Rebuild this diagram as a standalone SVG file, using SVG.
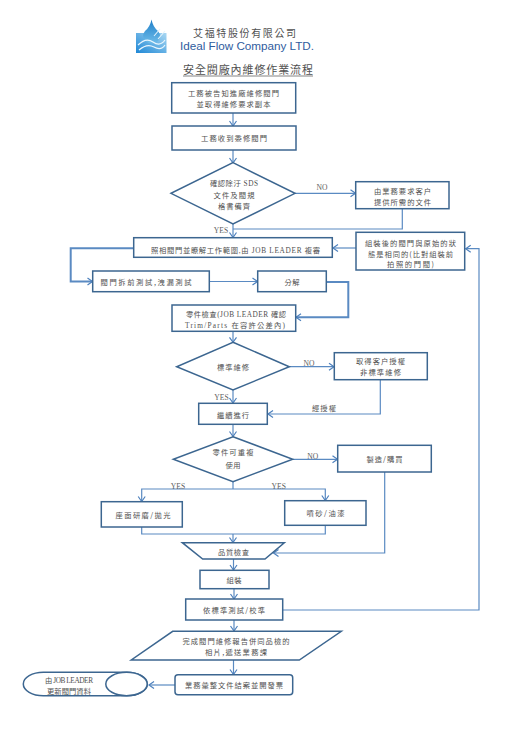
<svg xmlns="http://www.w3.org/2000/svg" width="520" height="735" viewBox="0 0 520 735">
<style>
text{font-family:"Noto Sans CJK TC","Liberation Serif",serif;font-size:7.3px;fill:#505050;text-anchor:middle;letter-spacing:1px}
.lat{font-family:"Liberation Serif","Noto Sans CJK TC",serif}
.lab{font-family:"Liberation Serif",serif;font-size:7.600px;fill:#606060;letter-spacing:0}
.b{fill:#fff;stroke:#3c6690;stroke-width:1.5}
.c{fill:none;stroke:#5a8ac2;stroke-width:1.2}
.a{marker-end:url(#ah)}
.h{stroke-width:2}
</style>
<defs>
<marker id="ah" markerUnits="userSpaceOnUse" markerWidth="10" markerHeight="10" refX="7" refY="5" orient="auto"><path d="M2 1.500L7 5L2 8.500" fill="none" stroke="#4d80bd" stroke-width="1.2"/></marker>
<linearGradient id="lg" x1="0" y1="1" x2="1" y2="0"><stop offset="0" stop-color="#1f88d6"/><stop offset="1" stop-color="#a9d8f3"/></linearGradient>
<linearGradient id="ld" x1="0" y1="0" x2="0" y2="1"><stop offset="0" stop-color="#1f7fc9"/><stop offset="1" stop-color="#6fbdea"/></linearGradient>
</defs>
<rect width="520" height="735" fill="#fff"/>
<g id="logo">
<rect x="136" y="33" width="30.500" height="20" fill="url(#lg)"/>
<path d="M151.500 19.500Q153 27 158 31Q162 36 158 41Q152 46 145.500 41Q141 36 145 31Q150 27 151.500 19.500Z" fill="url(#ld)"/>
<path d="M138 45Q146 37 153 42T165 40M139 50Q147 43 154 47T165 45" fill="none" stroke="#eaf6fd" stroke-width="1.200"/>
<path d="M154 36L160 29M158 39L165 31" stroke="#e4f3fc" stroke-width="1.100"/>
</g>
<g id="header">
<text x="244.500" y="37" textLength="103" style="font-size:10px;letter-spacing:0">艾福特股份有限公司</text>
<text x="247" y="50" textLength="134" style="font-family:'Liberation Sans',sans-serif;font-size:11.700px;fill:#2f5c9e;letter-spacing:0">Ideal Flow Company LTD.</text>
<text x="248" y="74" textLength="130" style="font-size:11px;letter-spacing:0">安全閥廠內維修作業流程</text>
<path d="M183 76H313" stroke="#666" stroke-width=".8"/>
</g>
<g id="connectors">
<path class="c a" d="M233 113V126"/>
<path class="c a" d="M233 150V163"/>
<path class="c a" d="M295 193.300H355.500"/>
<path class="c a" d="M233 224V237.500"/>
<path class="c" d="M402.300 208.700V229H233"/>
<path class="c a" d="M356 248H333"/>
<path class="c a h" d="M133.700 248.300H70.700V281.500H92.500"/>
<path class="c a" d="M209.300 281.500H257.500"/>
<path class="c a h" d="M326.300 282H348.300V317.300H296"/>
<path class="c a" d="M233 331.300V342.300"/>
<path class="c a" d="M289.300 366.700H334"/>
<path class="c a" d="M233 390V403"/>
<path class="c a" d="M380.300 379.700V414H268"/>
<path class="c a" d="M233 424.300V436.500"/>
<path class="c a" d="M292.700 459.300H337.500"/>
<path class="c" d="M233 481.700V489"/>
<path class="c a" d="M233 489H141.700V501.500"/>
<path class="c a" d="M233 489H325.300V500.500"/>
<path class="c" d="M141.700 527V534H325.300V525.300"/>
<path class="c a" d="M233 534V542.500"/>
<path class="c a" d="M384.700 472V553H273.500"/>
<path class="c a" d="M233.500 559V570"/>
<path class="c a" d="M234 588.700V599"/>
<path class="c a" d="M234 620V631"/>
<path class="c a" d="M233.500 660V674.500"/>
<path class="c a" d="M175 685H149"/>
<path class="c a" d="M282.700 610H479V248.700H465.700"/>
</g>
<g id="n1"><rect class="b" x="171.700" y="82.700" width="124" height="30.300"/><text x="233.500" y="96" textLength="91" style="letter-spacing:0">工務被告知進廠維修閥門</text><text x="233.500" y="107" textLength="74" style="letter-spacing:0">並取得維修要求副本</text></g>
<g id="n2"><rect class="b" x="172" y="126" width="124" height="24"/><text x="234" y="141" textLength="66" style="letter-spacing:0">工務收到委修閥門</text></g>
<g id="n3"><path class="b" d="M233 162.700L295 193.300L233 224L171 193.300Z"/><text class="lat" x="234" y="186" textLength="48" style="letter-spacing:0">確認除汙 SDS</text><text x="234" y="197.500" textLength="41" style="letter-spacing:0">文件及閥規</text><text x="234" y="208.500" textLength="32" style="letter-spacing:0">格書備齊</text></g>
<g id="n4"><rect class="b" x="355.700" y="181.700" width="93.300" height="27"/><text x="402.500" y="194" textLength="57" style="letter-spacing:0">由業務要求客户</text><text x="402.500" y="204.500" textLength="57" style="letter-spacing:0">提供所需的文件</text></g>
<g id="n5"><rect class="b" x="133.700" y="237.700" width="198.600" height="19.600"/><text class="lat" x="235.500" y="253" textLength="169" style="letter-spacing:0">照相閥門並瞭解工作範圍,由 JOB LEADER 複審</text></g>
<g id="n6"><rect class="b" x="356" y="232.300" width="108.700" height="37.700"/><text x="410.500" y="246" textLength="91" style="letter-spacing:0">組裝後的閥門與原始的狀</text><text x="410.500" y="256.500" textLength="85" style="letter-spacing:0">態是相同的(比對組裝前</text><text x="410.500" y="267" textLength="47" style="letter-spacing:0">拍照的門閥)</text></g>
<g id="n7"><rect class="b" x="92.700" y="271" width="116.600" height="20.700"/><text x="146" y="285" textLength="91" style="letter-spacing:0">閥門拆前測試,洩漏測試</text></g>
<g id="n8"><rect class="b" x="257.700" y="271" width="68.600" height="20.700"/><text x="292" y="285" textLength="15" style="letter-spacing:0">分解</text></g>
<g id="n9"><rect class="b" x="172" y="305" width="123.700" height="26.300"/><text class="lat" x="236" y="317" textLength="100" style="letter-spacing:0">零件檢查(JOB LEADER 確認</text><text class="lat" x="235" y="328" textLength="100" style="letter-spacing:0">Trim/Parts 在容許公差內)</text></g>
<g id="n10"><path class="b" d="M233 342.300L289.300 366.700L233 390L176.700 366.700Z"/><text x="233" y="370" textLength="32" style="letter-spacing:0">標準維修</text></g>
<g id="n11"><rect class="b" x="334.300" y="352.700" width="93" height="27"/><text x="380.500" y="363.500" textLength="49" style="letter-spacing:0">取得客户授權</text><text x="380.500" y="375" textLength="41" style="letter-spacing:0">非標準維修</text></g>
<g id="n12"><rect class="b" x="198.700" y="403.300" width="68.600" height="21"/><text x="233" y="417.500" textLength="32" style="letter-spacing:0">繼續進行</text></g>
<g id="n13"><path class="b" d="M233 436.700L292.700 459.300L233 481.700L173.300 459.300Z"/><text x="233" y="455" textLength="41" style="letter-spacing:0">零件可重複</text><text x="233" y="467.500" textLength="15" style="letter-spacing:0">使用</text></g>
<g id="n14"><rect class="b" x="337.700" y="445.300" width="93.600" height="26.700"/><text x="384.500" y="462" textLength="36" style="letter-spacing:0">製造/購買</text></g>
<g id="n15"><rect class="b" x="101.300" y="501.700" width="81" height="25.300"/><text x="143" y="518" textLength="55" style="letter-spacing:0">座面研磨/拋光</text></g>
<g id="n16"><rect class="b" x="284.700" y="500.700" width="81.300" height="24.600"/><text x="325.500" y="516" textLength="38" style="letter-spacing:0">噴砂/油漆</text></g>
<g id="n17"><path class="b" d="M182.300 542.700H284.300L265 559H202.700Z"/><text x="233.500" y="555" textLength="31" style="letter-spacing:0">品質檢查</text></g>
<g id="n18"><rect class="b" x="200" y="570.300" width="69" height="18.400"/><text x="234" y="583" textLength="15" style="letter-spacing:0">組裝</text></g>
<g id="n19"><rect class="b" x="185.700" y="599" width="97" height="21"/><text x="234" y="613" textLength="62" style="letter-spacing:0">依標準測試/校準</text></g>
<g id="n20"><path class="b" d="M172.700 631.300H341.300L299.300 660H131.300Z"/><text x="236" y="644" textLength="107" style="letter-spacing:0">完成閥門維修報告併同品檢的</text><text x="236" y="654.500" textLength="62" style="letter-spacing:0">相片,遞送業務課</text></g>
<g id="n21"><rect class="b" x="175" y="674.700" width="117.700" height="20" rx="3"/><text x="234" y="688" textLength="98" style="letter-spacing:0">業務彙整文件結案並開發票</text></g>
<g id="n22"><rect class="b" x="23.300" y="672.300" width="124" height="23.400" rx="20" ry="11.700"/><ellipse class="b" cx="126.500" cy="684" rx="20.700" ry="11.700"/><text class="lat" x="69" y="683" textLength="48" style="letter-spacing:0">由 JOB LEADER</text><text x="69" y="694" textLength="44" style="letter-spacing:0">更新閥門資料</text></g>
<g id="labels">
<text class="lab" x="322" y="190">NO</text>
<text class="lab" x="221" y="233">YES</text>
<text class="lab" x="309" y="366">NO</text>
<text class="lab" x="221.500" y="400">YES</text>
<text x="324" y="410.500" textLength="24" style="letter-spacing:0">經授權</text>
<text class="lab" x="312.700" y="458.500">NO</text>
<text class="lab" x="178" y="488.500">YES</text>
<text class="lab" x="278.700" y="488.500">YES</text>
</g>
</svg>
